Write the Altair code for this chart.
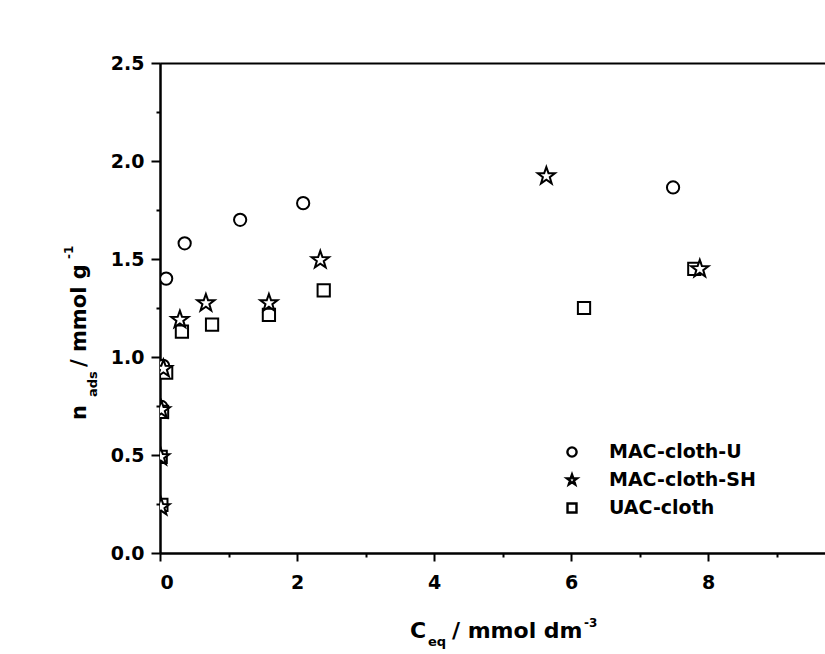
import altair as alt
import pandas as pd

# ---- data ----
series_names = ["MAC-cloth-U", "MAC-cloth-SH", "UAC-cloth"]

u_x = [0.02, 0.045, 0.09, 0.36, 1.17, 2.09, 7.49]
u_y = [0.745, 0.955, 1.40, 1.58, 1.70, 1.785, 1.865]

sh_x = [0.015, 0.01, 0.02, 0.05, 0.29, 0.67, 1.59, 2.34, 5.64, 7.88]
sh_y = [0.235, 0.49, 0.73, 0.94, 1.19, 1.275, 1.275, 1.495, 1.923, 1.449]

uac_x = [0.02, 0.01, 0.03, 0.09, 0.32, 0.76, 1.59, 2.39, 6.19, 7.80]
uac_y = [0.245, 0.49, 0.72, 0.92, 1.13, 1.165, 1.215, 1.34, 1.25, 1.449]

x_major = [0, 2, 4, 6, 8]
x_minor = [1, 3, 5, 7, 9]
y_major = [0.0, 0.5, 1.0, 1.5, 2.0, 2.5]
y_minor = [0.25, 0.75, 1.25, 1.75, 2.25]

df = pd.concat([
    pd.DataFrame({"x": u_x, "y": u_y, "s": series_names[0]}),
    pd.DataFrame({"x": sh_x, "y": sh_y, "s": series_names[1]}),
    pd.DataFrame({"x": uac_x, "y": uac_y, "s": series_names[2]}),
], ignore_index=True)
legend_df = pd.DataFrame({"s": series_names})

FONT = "DejaVu Sans"
star = ("M0,-1L0.235,-0.324L0.951,-0.309L0.38,0.124L0.588,0.809L0,0.4"
        "L-0.588,0.809L-0.38,0.124L-0.951,-0.309L-0.235,-0.324Z")
shape_scale = alt.Scale(domain=series_names, range=["circle", star, "square"])
xscale = alt.Scale(domain=[0, 9.708], nice=False, zero=False)
yscale = alt.Scale(domain=[0, 2.5], nice=False)


def pts(name, size, xaxis, yaxis):
    return alt.Chart(df).transform_filter(alt.datum.s == name).mark_point(
        filled=False, fill="white", stroke="black", strokeWidth=2, size=size,
        opacity=1, clip=True
    ).encode(
        x=alt.X("x:Q", scale=xscale, axis=xaxis),
        y=alt.Y("y:Q", scale=yscale, axis=yaxis),
        shape=alt.Shape("s:N", scale=shape_scale, legend=None),
    )

common = dict(domainColor="black", tickColor="black", labelColor="black",
              domainWidth=2, tickWidth=2, labelFont=FONT, labelFontWeight="bold",
              labelFontSize=19, title=None, grid=False)

x_major_axis = alt.Axis(orient="bottom", values=x_major, format="d", tickSize=8,
                        labelPadding=12, **common)
y_major_axis = alt.Axis(orient="left", values=y_major, format=".1f", tickSize=9,
                        labelPadding=7, **common)
x_minor_axis = alt.Axis(orient="bottom", values=x_minor, tickSize=4, labels=False,
                        **common)
y_minor_axis = alt.Axis(orient="left", values=y_minor, tickSize=4, labels=False,
                        **common)
x_top_axis = alt.Axis(orient="top", values=x_major + x_minor, ticks=False,
                      labels=False, **common)

circles = pts(series_names[0], 150, x_major_axis, y_major_axis)
squares = pts(series_names[2], 150, x_minor_axis, y_minor_axis)
stars = pts(series_names[1], 330, x_top_axis, None)

# ---- legend (symbols + labels), rows placed by a point scale ----
legend_y = alt.Y("s:N", axis=None,
                 scale=alt.Scale(type="point", domain=series_names,
                                 range=[389, 445], padding=0))
legend_symbols = alt.Chart(legend_df).mark_point(
    filled=False, fill="white", stroke="black", strokeWidth=2.4, opacity=1
).encode(
    x=alt.value(412),
    y=legend_y,
    shape=alt.Shape("s:N", scale=shape_scale, legend=None),
    size=alt.Size("s:N", legend=None,
                  scale=alt.Scale(type="ordinal", domain=series_names,
                                  range=[85, 115, 80])),
)
legend_labels = alt.Chart(legend_df).mark_text(
    font=FONT, fontWeight="bold", fontSize=19, color="black", align="left",
    baseline="middle"
).encode(x=alt.value(449), y=legend_y, text="s:N")

one = pd.DataFrame({"k": [0]})

def txt(t, x, y, size, angle=0, align="left", baseline="alphabetic"):
    kw = dict(text=t, font=FONT, fontWeight="bold", fontSize=size, color="black",
              align=align, baseline=baseline)
    if angle:
        kw["angle"] = angle
    return alt.Chart(one).mark_text(**kw).encode(x=alt.value(x), y=alt.value(y))

titles = [
    txt("C", 250, 575, 22),
    txt("eq", 268, 583, 13),
    txt("/ mmol dm", 292, 575, 22),
    txt("-3", 424, 564, 12),
    txt("n", -74, 357, 21, angle=270),
    txt("ads", -63, 334, 13, angle=270),
    txt("/ mmol g", -74, 304, 21, angle=270),
    txt("-1", -87, 196, 12, angle=270),
]

chart = alt.layer(circles, squares, stars, legend_symbols, legend_labels,
                  *titles).resolve_scale(
    y="independent"
).resolve_axis(
    x="independent", y="independent"
).properties(
    width=665, height=490,
    padding={"left": 160, "top": 63, "right": 0, "bottom": 101},
    autosize=alt.AutoSizeParams(type="none"),
    background="white",
).configure_view(stroke=None)

chart.save("out.html", embed_options={"renderer": "svg", "actions": False})
